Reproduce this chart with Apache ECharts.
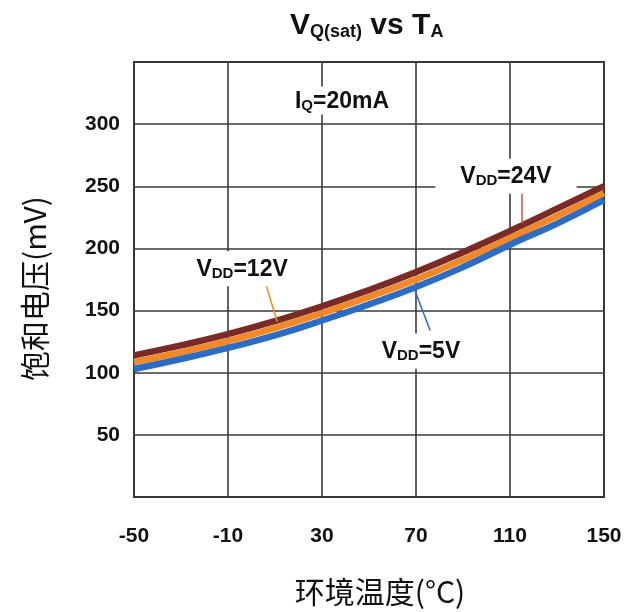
<!DOCTYPE html>
<html>
<head>
<meta charset="utf-8">
<script src="https://cdn.jsdelivr.net/npm/echarts@6/dist/echarts.min.js"></script>
<style>
  html, body { margin: 0; padding: 0; background: #fff; }
  #chart { width: 637px; height: 612px; }
</style>
</head>
<body>
<div id="chart"></div>
<script>
// Ambient temperature (°C) sample points
const temps = [-50, -30, -10, 10, 30, 50, 70, 90, 110, 130, 150];
// Saturation voltage VQ(sat) in mV at IQ = 20 mA, per supply voltage
const vdd5  = [103, 111, 120, 130, 142, 155, 169, 185, 203, 220, 239];
const vdd12 = [108.5, 116.5, 125.5, 136, 148, 161, 175, 191, 208.5, 226, 244.5];
const vdd24 = [114, 122, 131, 141.5, 153.5, 166.5, 181, 197, 214, 232, 250];

const xTicks = { min: -50, max: 150, interval: 40 };
const yTicks = { min: 0, max: 350, interval: 50 };

const FONT = '"Liberation Sans", Arial, sans-serif';
const CJK = '"Noto Sans CJK SC", sans-serif';

const pairs = arr => temps.map((t, i) => [t, arr[i]]);

const rich = {
  v: { fontFamily: FONT, fontWeight: 'bold', fontSize: 23, color: '#111', lineHeight: 24 },
  s: { fontFamily: FONT, fontWeight: 'bold', fontSize: 15, color: '#111', lineHeight: 15, padding: [9, 0, 0, 0] }
};

function note(coord, text, pad) {
  return {
    coord: coord,
    symbol: 'rect',
    symbolSize: 1,
    itemStyle: { color: 'rgba(0,0,0,0)' },
    label: {
      show: true,
      position: 'inside',
      formatter: text,
      rich: rich,
      backgroundColor: '#fff',
      padding: pad
    }
  };
}

function pointer(a, b, color) {
  return [{ coord: a, lineStyle: { color: color, width: 1.5, type: 'solid' } }, { coord: b }];
}

const chart = echarts.init(document.getElementById('chart'), null, { renderer: 'canvas' });

chart.setOption({
  backgroundColor: '#fff',
  animation: false,
  title: {
    text: '{v|V}{s|Q(sat)}{v| vs T}{s|A}',
    left: 285,
    top: 5,
    textStyle: {
      rich: {
        v: { fontFamily: FONT, fontWeight: 'bold', fontSize: 30, color: '#111', lineHeight: 32 },
        s: { fontFamily: FONT, fontWeight: 'bold', fontSize: 18, color: '#111', lineHeight: 19, padding: [13, 0, 0, 0] }
      }
    }
  },
  grid: {
    left: 134, right: 33, top: 62, bottom: 114,
    show: true, borderColor: '#333', borderWidth: 2, backgroundColor: '#fff'
  },
  xAxis: {
    type: 'value',
    min: xTicks.min, max: xTicks.max, interval: xTicks.interval,
    axisLine: { show: false },
    axisTick: { show: false },
    splitLine: { show: true, lineStyle: { color: '#3a3a3a', width: 1.6 } },
    axisLabel: { margin: 29, color: '#111', fontFamily: FONT, fontWeight: 'bold', fontSize: 21 },
    name: '环境温度(°C)',
    nameLocation: 'middle',
    nameGap: 80,
    nameTextStyle: { fontFamily: CJK, fontSize: 30, color: '#111', padding: [0, 0, 0, 22] }
  },
  yAxis: {
    type: 'value',
    min: yTicks.min, max: yTicks.max, interval: yTicks.interval,
    axisLine: { show: false },
    axisTick: { show: false },
    splitLine: { show: true, lineStyle: { color: '#3a3a3a', width: 1.6 } },
    axisLabel: { margin: 14, color: '#111', fontFamily: FONT, fontWeight: 'bold', fontSize: 21,
                 showMinLabel: false, showMaxLabel: false },
    name: '饱和电压(mV)',
    nameLocation: 'middle',
    nameGap: 84,
    nameTextStyle: { fontFamily: CJK, fontSize: 30, color: '#111', padding: [0, 18, 0, 0] }
  },
  series: [
    {
      name: 'VDD=24V', type: 'line', smooth: true, symbol: 'none', z: 3,
      data: pairs(vdd24),
      lineStyle: { color: '#7a2b25', width: 6.5 }
    },
    {
      name: 'VDD=12V', type: 'line', smooth: true, symbol: 'none', z: 3,
      data: pairs(vdd12),
      lineStyle: { color: '#f08a28', width: 6.5 }
    },
    {
      name: 'VDD=5V', type: 'line', smooth: true, symbol: 'none', z: 3,
      data: pairs(vdd5),
      lineStyle: { color: '#2c6cc4', width: 6.5 }
    },
    {
      // annotation labels on white boxes, plus pointer leaders
      type: 'line', data: [], z: 4, silent: true,
      markPoint: {
        silent: true,
        data: [
          note([38.5, 319], '{v|I}{s|Q}{v|=20mA}', [3, 10, 1, 10]),
          note([108.3, 258], '{v|V}{s|DD}{v|=24V}', [6, 25, 5, 25]),
          note([-4, 183.6], '{v|V}{s|DD}{v|=12V}', [6, 21, 5, 21]),
          note([72.1, 117.5], '{v|V}{s|DD}{v|=5V}', [6, 20, 5, 20])
        ]
      },
      markLine: {
        silent: true,
        symbol: 'none',
        label: { show: false },
        data: [
          pointer([115.1, 249], [115.1, 220], '#c9504a'),
          pointer([5.7, 174], [10.9, 141], '#f08a28'),
          pointer([76, 134], [69.6, 166], '#2c6cc4')
        ]
      }
    }
  ]
});
</script>
</body>
</html>
